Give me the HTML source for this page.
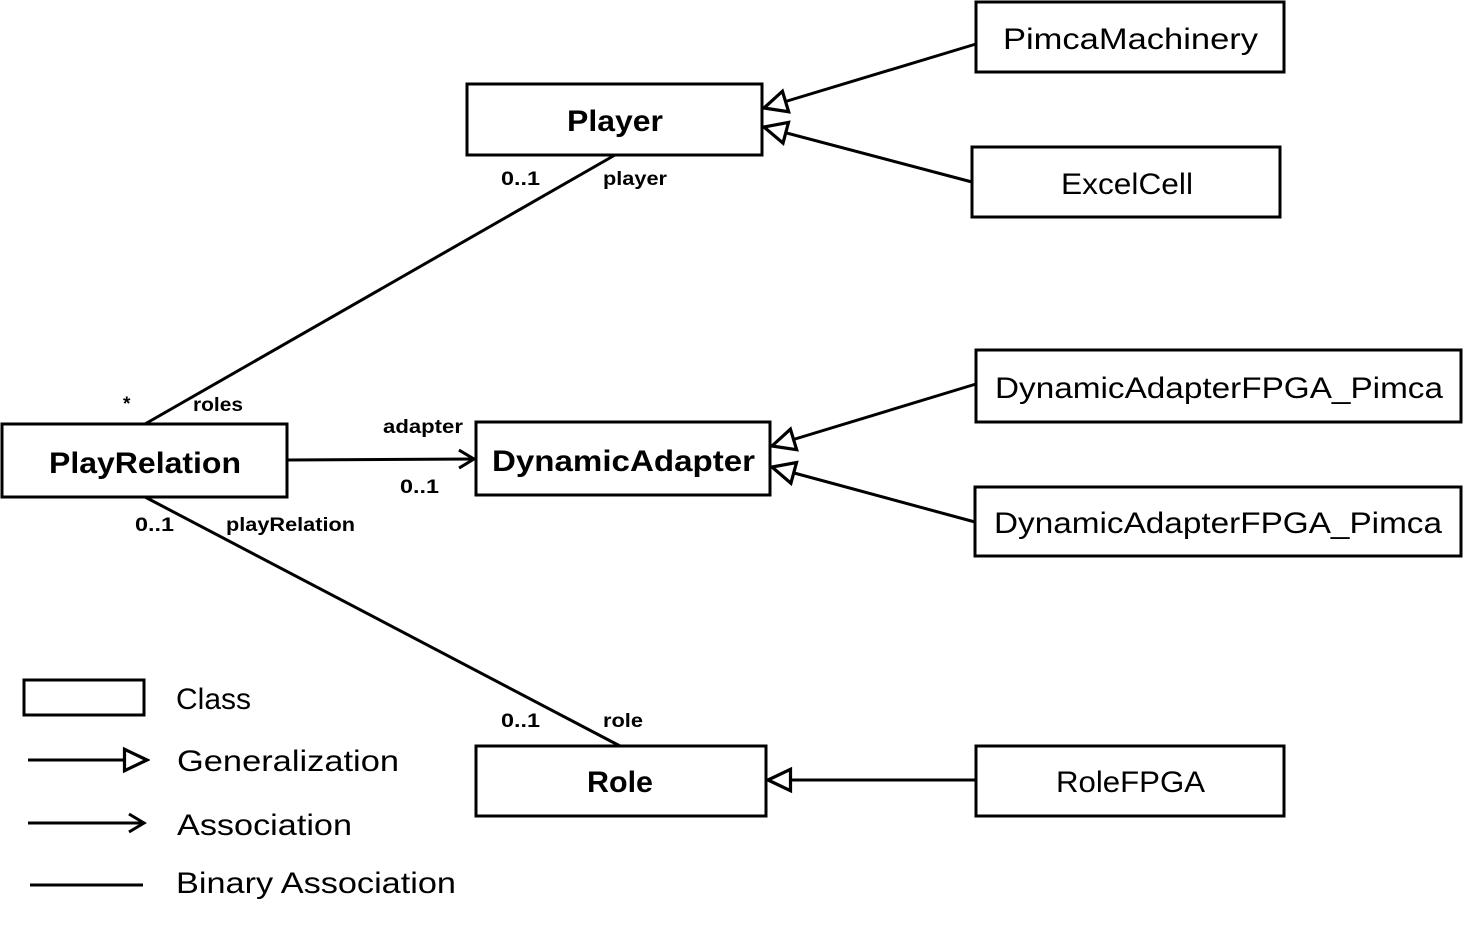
<!DOCTYPE html>
<html><head><meta charset="utf-8"><style>
html,body{margin:0;padding:0;background:#fff}
svg{display:block}
text{font-family:"Liberation Sans",sans-serif;fill:#000}
.big{font-size:30px}
.b{font-weight:bold}
.sm{font-size:19px;font-weight:bold}
</style></head><body>
<svg width="1468" height="927" viewBox="0 0 1468 927" xmlns="http://www.w3.org/2000/svg">
<defs>
<marker id="gen" markerUnits="userSpaceOnUse" markerWidth="30" markerHeight="30" viewBox="-25 -14 28 28" refX="0" refY="0" orient="auto">
<path d="M0,0 L-21,-10 L-21,10 Z" fill="#fff" stroke="#000" stroke-width="3"/>
</marker>
<marker id="asc" markerUnits="userSpaceOnUse" markerWidth="24" markerHeight="24" viewBox="-18 -12 20 24" refX="0" refY="0" orient="auto">
<path d="M-15,-9 L0,0 L-15,9" fill="none" stroke="#000" stroke-width="3"/>
</marker>
</defs>
<g fill="none" stroke="#000" stroke-width="3">
<rect x="976" y="2" width="308" height="70"/>
<rect x="467" y="84" width="295" height="71"/>
<rect x="972" y="147" width="308" height="70"/>
<rect x="976" y="350" width="485" height="72"/>
<rect x="2" y="424" width="285" height="73"/>
<rect x="476" y="422" width="294" height="73"/>
<rect x="975" y="487" width="486" height="69"/>
<rect x="476" y="746" width="290" height="70"/>
<rect x="976" y="746" width="308" height="70"/>
<rect x="24" y="680" width="120" height="35"/>
<line x1="615" y1="155" x2="145" y2="424"/>
<line x1="145" y1="497" x2="620" y2="746"/>
<line x1="287" y1="460" x2="474" y2="459" marker-end="url(#asc)"/>
<line x1="976" y1="44" x2="764" y2="108" marker-end="url(#gen)"/>
<line x1="972" y1="182" x2="764" y2="127" marker-end="url(#gen)"/>
<line x1="976" y1="384" x2="772" y2="446" marker-end="url(#gen)"/>
<line x1="975" y1="522" x2="772" y2="467" marker-end="url(#gen)"/>
<line x1="976" y1="780" x2="768" y2="780" marker-end="url(#gen)"/>
<line x1="28" y1="760" x2="147" y2="760" marker-end="url(#gen)"/>
<line x1="28" y1="823" x2="144" y2="823" marker-end="url(#asc)"/>
<line x1="30" y1="885" x2="143" y2="885"/>
</g>
<text class="big" x="1003" y="49" textLength="255" lengthAdjust="spacingAndGlyphs">PimcaMachinery</text>
<text class="big b" x="567" y="131" textLength="96" lengthAdjust="spacingAndGlyphs">Player</text>
<text class="big" x="1061" y="194" textLength="132" lengthAdjust="spacingAndGlyphs">ExcelCell</text>
<text class="big" x="995" y="398" textLength="448" lengthAdjust="spacingAndGlyphs">DynamicAdapterFPGA_Pimca</text>
<text class="big b" x="49" y="473" textLength="192" lengthAdjust="spacingAndGlyphs">PlayRelation</text>
<text class="big b" x="492" y="471" textLength="263" lengthAdjust="spacingAndGlyphs">DynamicAdapter</text>
<text class="big" x="994" y="533" textLength="448" lengthAdjust="spacingAndGlyphs">DynamicAdapterFPGA_Pimca</text>
<text class="big b" x="587" y="792" textLength="66" lengthAdjust="spacingAndGlyphs">Role</text>
<text class="big" x="1056" y="792" textLength="149" lengthAdjust="spacingAndGlyphs">RoleFPGA</text>
<text class="big" x="176" y="709" textLength="75" lengthAdjust="spacingAndGlyphs">Class</text>
<text class="big" x="177" y="771" textLength="222" lengthAdjust="spacingAndGlyphs">Generalization</text>
<text class="big" x="177" y="835" textLength="175" lengthAdjust="spacingAndGlyphs">Association</text>
<text class="big" x="176" y="893" textLength="280" lengthAdjust="spacingAndGlyphs">Binary Association</text>
<text class="sm" x="501" y="185" textLength="39" lengthAdjust="spacingAndGlyphs">0..1</text>
<text class="sm" x="603" y="185" textLength="64" lengthAdjust="spacingAndGlyphs">player</text>
<text class="sm" x="123" y="410">*</text>
<text class="sm" x="193" y="411" textLength="50" lengthAdjust="spacingAndGlyphs">roles</text>
<text class="sm" x="383" y="433" textLength="80" lengthAdjust="spacingAndGlyphs">adapter</text>
<text class="sm" x="400" y="493" textLength="39" lengthAdjust="spacingAndGlyphs">0..1</text>
<text class="sm" x="135" y="531" textLength="39" lengthAdjust="spacingAndGlyphs">0..1</text>
<text class="sm" x="226" y="531" textLength="129" lengthAdjust="spacingAndGlyphs">playRelation</text>
<text class="sm" x="501" y="727" textLength="39" lengthAdjust="spacingAndGlyphs">0..1</text>
<text class="sm" x="603" y="727" textLength="40" lengthAdjust="spacingAndGlyphs">role</text>
</svg>
</body></html>
